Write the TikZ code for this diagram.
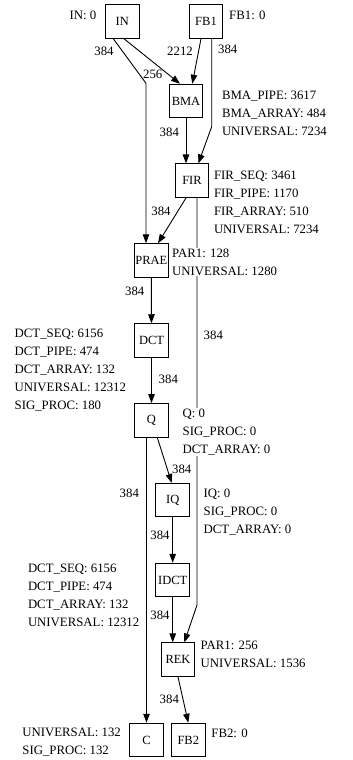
\documentclass[tikz,border=0pt]{standalone}
\usepackage{fontspec}
\setmainfont{Liberation Serif}
\usetikzlibrary{arrows.meta}
\tikzset{
  blk/.style={
    rectangle, draw=black, line width=1pt, fill=white,
    minimum width=33.5pt, minimum height=33.5pt, inner sep=1pt,
    font=\fontsize{12.5}{14}\selectfont
  },
  flow/.style={-{Triangle[length=9pt,width=6.5pt]}, line width=0.9pt},
  lbl/.style={
    anchor=west, align=left, fill=white, inner sep=1pt,
    font=\fontsize{12.8}{18}\selectfont
  },
  elbl/.style={inner sep=0pt, font=\fontsize{12.8}{14}\selectfont},
}

\begin{document}
\begin{tikzpicture}[x=1pt, y=-1pt]
      \useasboundingbox (0,0) rectangle (353,760);

      % processes
      \node[blk](in)   at (122.3, 21.5) {IN};
      \node[blk](fb1)  at (206.0, 21.5) {FB1};
      \node[blk](bma)  at (186.0,101.0) {BMA};
      \node[blk](fir)  at (192.0,180.7) {FIR};
      \node[blk](prae) at (151.3,260.5) {PRAE};
      \node[blk](dct)  at (151.5,340.5) {DCT};
      \node[blk](q)    at (151.5,420.3) {Q};
      \node[blk](iq)   at (172.7,500.2) {IQ};
      \node[blk](idct) at (172.7,580.0) {IDCT};
      \node[blk](rek)  at (178.0,659.7) {REK};
      \node[blk](c)    at (146.5,740.0) {C};
      \node[blk](fb2)  at (188.3,740.0) {FB2};

      % bends
      \coordinate (kin)  at (146.0, 83.3);
      \coordinate (kfb)  at (211.7,126.7);
      \coordinate (kfir) at (197.0,605.0);

      \draw[flow] ([xshift=1.7]in.south) -- ([xshift=-6]bma.north);
      \draw[flow] ([xshift=-9]in.south) -- (kin) -- (kin |- prae.north);
      \draw[flow] ([xshift=-5]fb1.south) -- ([xshift=6.3]bma.north);
      \draw[flow] (fb1.south -| kfb) -- (kfb) -- ([xshift=6.3]fir.north);
      \draw[flow] (bma.south) -- (bma.south |- fir.north);
      \draw[flow] ([xshift=-6]fir.south) -- ([xshift=6.7]prae.north);
      \draw[flow] (fir.south -| kfir) -- (kfir) -- ([xshift=6.3]rek.north);
      \draw[flow] (prae) -- (dct);
      \draw[flow] (dct) -- (q);
      \draw[flow] ([xshift=5.8]q.south) -- ([xshift=-1]iq.north);
      \draw[flow] (c.north |- q.south) -- (c.north);
      \draw[flow] (iq) -- (idct);
      \draw[flow] (idct.south) -- (idct.south |- rek.north);
      \draw[flow] (rek.south) -- (fb2.north);

      % edge weights
      \node[elbl](w1)  at (104.0, 51.7) {384};
      \node[elbl](w2)  at (152.7, 74.0) {256};
      \node[elbl](w3)  at (180.0, 51.7) {2212};
      \node[elbl](w4)  at (227.7, 49.0) {384};
      \node[elbl](w5)  at (169.3,132.3) {384};
      \node[elbl](w6)  at (161.0,211.7) {384};
      \node[elbl](w7)  at (134.7,291.7) {384};
      \node[elbl](w8)  at (213.3,335.0) {384};
      \node[elbl](w9)  at (168.3,379.3) {384};
      \node[elbl](w10) at (181.7,469.0) {384};
      \node[elbl](w11) at (129.3,493.3) {384};
      \node[elbl](w12) at (160.0,535.0) {384};
      \node[elbl](w13) at (160.0,615.0) {384};
      \node[elbl](w14) at (169.3,699.0) {384};

      % resource annotations
      \node[elbl](lin)  at (83.0, 15.0) {IN: 0};
      \node[elbl, anchor=west](lfb1) at (229.0, 15.0) {FB1: 0};
      \node[lbl](lbma)  at (220.8,113.0) {BMA\_PIPE: 3617\\BMA\_ARRAY: 484\\UNIVERSAL: 7234};
      \node[lbl](lfir)  at (212.8,202.0) {FIR\_SEQ: 3461\\FIR\_PIPE: 1170\\FIR\_ARRAY: 510\\UNIVERSAL: 7234};
      \node[lbl](lprae) at (171.0,262.0) {PAR1: 128\\UNIVERSAL: 1280};
      \node[lbl](ldct)  at (13.5,370.0) {DCT\_SEQ: 6156\\DCT\_PIPE: 474\\DCT\_ARRAY: 132\\UNIVERSAL: 12312\\SIG\_PROC: 180};
      \node[lbl](lq)    at (181.5,431.7) {Q: 0\\SIG\_PROC: 0\\DCT\_ARRAY: 0};
      \node[lbl](liq)   at (202.5,512.0) {IQ: 0\\SIG\_PROC: 0\\DCT\_ARRAY: 0};
      \node[lbl](lidct) at (26.8,595.5) {DCT\_SEQ: 6156\\DCT\_PIPE: 474\\DCT\_ARRAY: 132\\UNIVERSAL: 12312};
      \node[lbl](lrek)  at (199.5,654.5) {PAR1: 256\\UNIVERSAL: 1536};
      \node[lbl](lc)    at (21.2,742.5) {UNIVERSAL: 132\\SIG\_PROC: 132};
      \node[lbl](lfb2)  at (210.2,733.3) {FB2: 0};
\end{tikzpicture}
\end{document}
